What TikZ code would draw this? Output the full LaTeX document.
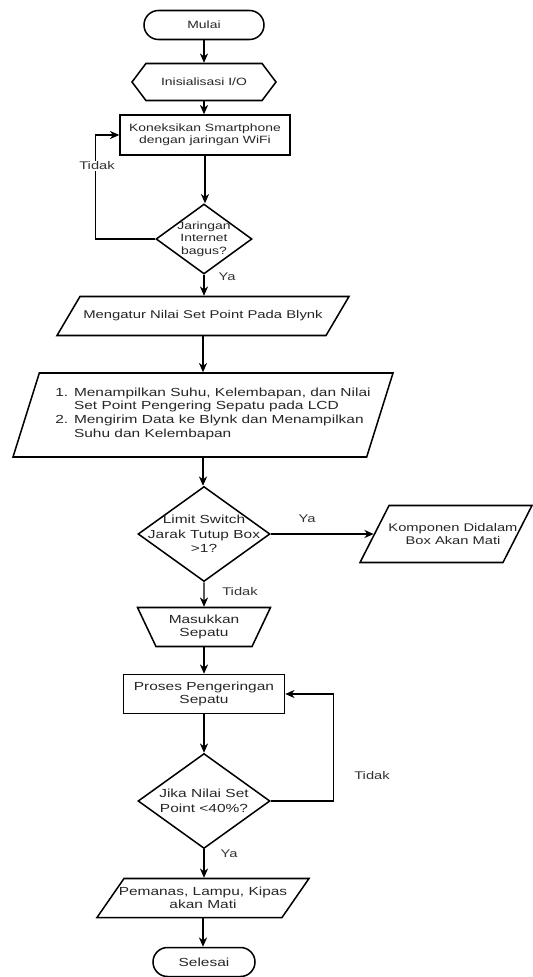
\documentclass[tikz,border=0pt]{standalone}
\usepackage{fontspec}
\setmainfont{Liberation Sans}[FakeStretch=1.32]
\usetikzlibrary{shapes.geometric, shapes.misc, shapes.symbols, arrows.meta}

\newcommand{\pu}{0.03cm}
\tikzset{
  shp/.style={draw, line width=1.3pt, inner sep=0pt, text=black!85},
  term/.style={shp, rounded rectangle},
  prep/.style={shp, signal, signal to=east and west, signal pointer angle=106},
  proc/.style={shp, rectangle},
  dec/.style={shp, diamond},
  io/.style 2 args={shp, trapezium, trapezium left angle=#1, trapezium right angle=#2, trapezium stretches body},
  manual/.style={shp, trapezium, trapezium angle=53, shape border rotate=180, trapezium stretches body},
  txt/.style={align=center, text=black!85, inner sep=0pt},
  lbl/.style={text=black!80, inner sep=1pt, font=\fontsize{9.5}{11}\selectfont},
  fs/.style={font=\fontsize{9}{10.6}\selectfont},
  fm/.style={font=\fontsize{10}{11.6}\selectfont},
  fl/.style={font=\fontsize{10}{12.3}\selectfont},
  arr/.style={line width=1pt, -{Stealth[length=8pt,width=7pt]}}
}

\begin{document}
\begin{tikzpicture}[x=\pu, y=-\pu]
  \useasboundingbox (0,0) rectangle (533,977);
  % main column
  \node[term, fs, minimum width=120*\pu, minimum height=29*\pu] (start) at (204,25) {Mulai};
  \node[prep, fs, minimum width=144*\pu, minimum height=37*\pu] (init) at (204,82) {Inisialisasi I/O};
  \node[proc, fs, align=center, minimum width=170*\pu, minimum height=40*\pu] (wifi) at (205,135) {Koneksikan Smartphone\\dengan jaringan WiFi};
  \node[dec, minimum width=96*\pu, minimum height=70*\pu] (cek) at (204,239) {};
  \node[txt, fs] (cek-t) at (cek) {Jaringan\\Internet\\bagus?};
  \node[io={59.5}{120.5}, minimum width=292*\pu, inner ysep=19.5*\pu] (atur) at (203,316) {};
  \node[txt, font=\fontsize{9.6}{11.6}\selectfont] (atur-t) at (203,316) {Mengatur Nilai Set Point Pada Blynk};
  \node[io={72.6}{107.4}, minimum width=380*\pu, inner ysep=42*\pu] (tampil) at (203,415) {};
  \node[txt, fm, align=left] (tampil-t) at (213,414) {\begin{tabular}{@{}l@{ }l@{}}
    1.& Menampilkan Suhu, Kelembapan, dan Nilai\\
      & Set Point Pengering Sepatu pada LCD\\
    2.& Mengirim Data ke Blynk dan Menampilkan\\
      & Suhu dan Kelembapan
  \end{tabular}};
  \node[dec, minimum width=132*\pu, minimum height=95*\pu] (limit) at (204,534) {};
  \node[txt, fl] (limit-t) at (limit) {Limit Switch\\Jarak Tutup Box\\>1?};
  \node[io={63}{117}, minimum width=172*\pu, inner ysep=28.5*\pu] (mati) at (446,534) {};
  \node[txt, font=\fontsize{9.5}{11.6}\selectfont] (mati-t) at (453,534) {Komponen Didalam\\Box Akan Mati};
  \node[manual, fm, align=center, minimum width=133*\pu, minimum height=39*\pu] (masuk) at (204,627) {Masukkan\\Sepatu};
  \node[proc, fm, align=center, minimum width=161*\pu, minimum height=39*\pu] (proses) at (204,694) {Proses Pengeringan\\Sepatu};
  \node[dec, minimum width=132*\pu, minimum height=95*\pu] (cekrh) at (204,801) {};
  \node[txt, fl] (cekrh-t) at (cekrh) {Jika Nilai Set\\Point <40\%?};
  \node[io={55.3}{124.7}, minimum width=212*\pu, inner ysep=19.5*\pu] (off) at (203,898) {};
  \node[txt, fm] (off-t) at (203,898) {Pemanas, Lampu, Kipas\\akan Mati};
  \node[term, fm, minimum width=102*\pu, minimum height=29*\pu] (end) at (204,962) {Selesai};

  % connectors
  \foreach \a/\b in {start/init, init/wifi, wifi/cek, atur/tampil, tampil/limit, masuk/proses, proses/cekrh, off/end}
    \draw[arr] (\a.south) -- (\a.south |- \b.north);
  \draw[arr] (cek.south) -- (cek.south |- atur.north);
  \draw[arr] (limit.east) -- (mati);
  \draw[arr] (limit.south) -- (masuk.north);
  \draw[arr] (cekrh.south) -- (cekrh.south |- off.north);
  \draw[arr] (cek.west) -- ++(-60,0) |- (wifi.west);
  \draw[arr] (cekrh.east) -- ++(63,0) |- (proses.east);

  % labels
  \node[lbl] (ya1) at (227,277) {Ya};
  \node[lbl, fill=white] (tidak1) at (97,166) {Tidak};
  \node[lbl] (ya2) at (307,519) {Ya};
  \node[lbl] (tidak2) at (240,592) {Tidak};
  \node[lbl] (tidak3) at (372,776) {Tidak};
  \node[lbl] (ya3) at (229,854) {Ya};
\end{tikzpicture}
\end{document}
